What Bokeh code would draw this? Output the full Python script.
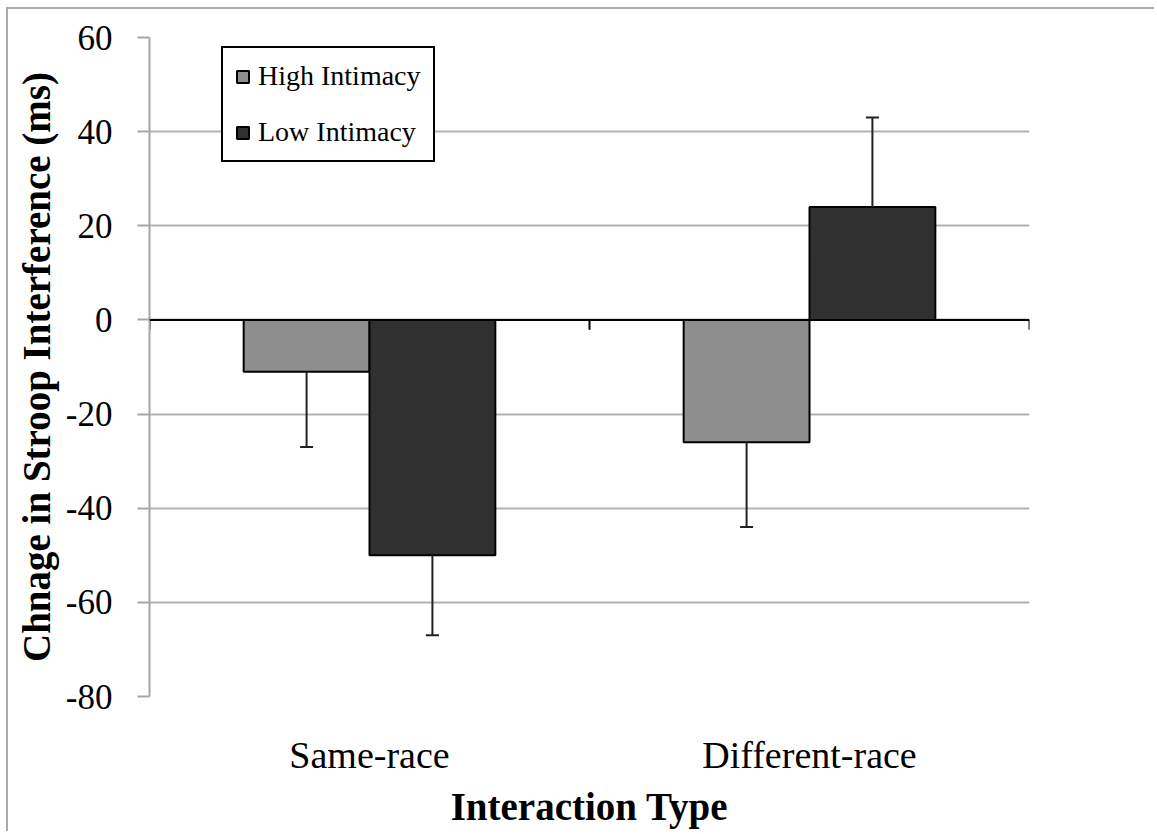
from bokeh.plotting import figure
from bokeh.models import FactorRange, Range1d, Span, ColumnDataSource, FixedTicker, PrintfTickFormatter
from bokeh.transform import dodge
from bokeh.embed import file_html
from bokeh.resources import INLINE

# ---- data ----
categories = ["Same-race", "Different-race"]
high_intimacy = [-11, -26]
low_intimacy = [-50, 24]
high_err = [16, 18]      # one-sided error (away from zero)
low_err = [17, 19]
y_ticks = [-80, -60, -40, -20, 0, 20, 40, 60]

def err_end(vals, errs):
    return [v + (e if v >= 0 else -e) for v, e in zip(vals, errs)]

src = ColumnDataSource(dict(
    cat=categories,
    high=high_intimacy,
    low=low_intimacy,
    high_end=err_end(high_intimacy, high_err),
    low_end=err_end(low_intimacy, low_err),
))

FONT = "Liberation Serif"
BAR_W = 0.286
OFF = 0.143

p = figure(
    x_range=FactorRange(factors=categories, range_padding=0),
    y_range=Range1d(-80, 60),
    width=1148, height=824,
    min_border_left=141, min_border_right=127,
    min_border_top=28, min_border_bottom=137,
    output_backend="svg", toolbar_location=None,
    background_fill_color="white", border_fill_color="white",
)
p.outline_line_color = None
p.styles = {"border-left": "2px solid #ababab", "border-top": "2px solid #ababab",
            "margin-left": "6px", "margin-top": "7px"}

# grid
p.xgrid.grid_line_color = None
p.ygrid.ticker = FixedTicker(ticks=y_ticks)
p.ygrid.grid_line_color = "#b2b2b2"
p.ygrid.grid_line_width = 2

# bars
xh = dodge("cat", -OFF, range=p.x_range)
xl = dodge("cat", OFF, range=p.x_range)
p.vbar(x=xh, top="high", bottom=0, width=BAR_W, source=src,
       fill_color="#8e8e8e", line_color="#000000", line_width=2,
       legend_label="High Intimacy")
p.vbar(x=xl, top="low", bottom=0, width=BAR_W, source=src,
       fill_color="#303030", line_color="#000000", line_width=2,
       legend_label="Low Intimacy")

# error bars (one-sided)
for xx, y0, y1 in ((xh, "high", "high_end"), (xl, "low", "low_end")):
    p.segment(x0=xx, y0=y0, x1=xx, y1=y1, source=src,
              line_color="#222222", line_width=2)
    p.scatter(x=xx, y=y1, source=src, marker="dash", size=13,
              line_color="#222222", line_width=2)

# zero line with category-boundary ticks
p.add_layout(Span(location=0, dimension="width", line_color="#000000", line_width=2))
bounds = list(range(len(categories) + 1))
p.segment(x0=bounds, y0=[0] * len(bounds), x1=bounds, y1=[-2.1] * len(bounds),
          line_color="#000000", line_width=2)

# y axis
ya = p.yaxis[0]
ya.ticker = FixedTicker(ticks=y_ticks)
ya.formatter = PrintfTickFormatter(format="%d")
ya.axis_line_color = "#a6a6a6"
ya.axis_line_width = 2
ya.major_tick_line_color = "#a6a6a6"
ya.major_tick_line_width = 2
ya.major_tick_in = 0
ya.major_tick_out = 12
ya.minor_tick_line_color = None
ya.major_label_text_font = FONT
ya.major_label_text_font_size = "35px"
ya.major_label_text_color = "#000000"
ya.major_label_standoff = 25
ya.axis_label = "Chnage in Stroop Interference (ms)"
ya.axis_label_text_font = FONT
ya.axis_label_text_font_style = "bold"
ya.axis_label_text_font_size = "39px"
ya.axis_label_text_color = "#000000"
ya.axis_label_standoff = 5

# x axis
xa = p.xaxis[0]
xa.axis_line_color = None
xa.major_tick_line_color = None
xa.minor_tick_line_color = None
xa.major_label_text_font = FONT
xa.major_label_text_font_size = "38px"
xa.major_label_text_color = "#000000"
xa.major_label_standoff = 31
xa.axis_label = "Interaction Type"
xa.axis_label_text_font = FONT
xa.axis_label_text_font_style = "bold"
xa.axis_label_text_font_size = "39px"
xa.axis_label_text_color = "#000000"
xa.axis_label_standoff = 6

# legend
lg = p.legend[0]
lg.location = (72, 534)
lg.border_line_color = "#000000"
lg.border_line_alpha = 1
lg.border_line_width = 2
lg.background_fill_color = "white"
lg.background_fill_alpha = 1
lg.label_text_font = FONT
lg.label_text_font_size = "28px"
lg.label_text_color = "#000000"
lg.glyph_width = 15
lg.glyph_height = 15
lg.label_standoff = 8
lg.spacing = 24
lg.padding = 12
lg.margin = 0

open("out.html", "w").write(file_html(p, INLINE))
